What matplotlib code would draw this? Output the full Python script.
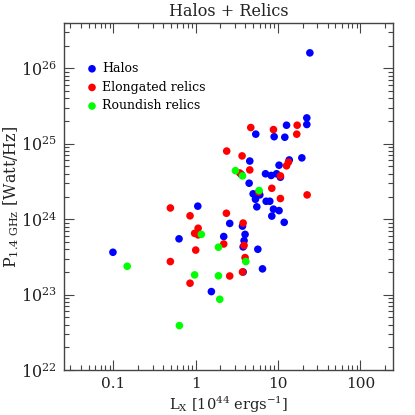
import numpy as np
import matplotlib
matplotlib.use('Agg')
import matplotlib.pyplot as plt
from matplotlib.ticker import LogLocator, NullFormatter, FixedLocator

# Радиогало (синие)
halo_lx = [24.4, 22.4, 22.4, 12.7, 5.37, 8.98, 12.1, 19.5, 13.7, 4.54,
           10.3, 7.05, 8.26, 9.6, 10.7, 4.46, 4.99, 6.01, 5.32, 7.18,
           7.95, 5.53, 8.81, 10.3, 8.41, 11.9, 1.06, 2.59, 3.70, 3.98,
           2.19, 3.87, 3.77, 0.627, 0.0986, 5.69, 6.48, 3.77, 1.55, 3.6]
halo_p = [1.6e26, 2.2e25, 1.8e25, 1.76e25, 1.34e25, 1.24e25, 1.22e25, 6.5e24, 6.1e24, 5.9e24,
          5.2e24, 4.0e24, 3.8e24, 4.0e24, 3.6e24, 3.0e24, 2.17e24, 2.1e24, 1.84e24, 1.73e24,
          1.73e24, 1.46e24, 1.36e24, 1.30e24, 1.1e24, 9.1e23, 1.49e24, 8.8e23, 8.1e23, 6.3e23,
          5.9e23, 5.2e23, 4.3e23, 5.5e23, 3.65e23, 4.0e23, 2.2e23, 2.0e23, 1.1e23, 3.9e24]

# Вытянутые реликты (красные)
elong_lx = [4.67, 8.81, 17.1, 16.9, 2.38, 3.66, 4.54, 13.4, 12.7, 3.43,
            10.7, 8.41, 10.7, 22.6, 5.84, 0.492, 0.853, 2.36, 3.77, 1.07,
            0.97, 1.07, 1.0, 2.19, 3.87, 3.98, 0.492, 2.59, 3.70, 0.853]
elong_p = [1.64e25, 1.54e25, 1.76e25, 1.34e25, 8.0e24, 6.9e24, 4.5e24, 5.7e24, 5.1e24, 4.1e24,
           3.75e24, 2.57e24, 1.88e24, 2.1e24, 2.3e24, 1.41e24, 1.11e24, 1.2e24, 8.9e23, 7.6e23,
           6.5e23, 6.2e23, 3.9e23, 4.7e23, 4.5e23, 3.1e23, 2.75e23, 1.77e23, 2.0e23, 1.42e23]

# Округлые реликты (зелёные)
round_lx = [3.04, 3.70, 5.9, 1.17, 1.89, 4.06, 0.147, 0.97, 1.89, 1.96, 0.633]
round_p = [4.4e24, 3.75e24, 2.4e24, 6.3e23, 4.26e23, 2.75e23, 2.38e23, 1.83e23, 1.78e23, 8.7e22, 3.9e22]

x_ticks = [0.1, 1, 10, 100]
x_ticklabels = ['0.1', '1', '10', '100']
y_ticks = [1e22, 1e23, 1e24, 1e25, 1e26]
y_ticklabels = [r'10$^{22}$', r'10$^{23}$', r'10$^{24}$', r'10$^{25}$', r'10$^{26}$']

plt.rcParams['font.family'] = ['DejaVu Serif']
plt.rcParams['mathtext.fontset'] = 'dejavuserif'

fig = plt.figure(figsize=(4.15, 4.15), dpi=100)
ax = fig.add_axes([0.154, 0.108, 0.793, 0.837])

ms = 30
ax.scatter(halo_lx, halo_p, s=ms, color='#0000ff', edgecolors='none', label='Halos', zorder=3)
ax.scatter(elong_lx, elong_p, s=ms, color='#ff0000', edgecolors='none', label='Elongated relics', zorder=4)
ax.scatter(round_lx, round_p, s=ms, color='#00ff00', edgecolors='none', label='Roundish relics', zorder=5)

ax.set_xscale('log')
ax.set_yscale('log')
ax.set_xlim(0.025, 250)
ax.set_ylim(1e22, 4e26)

ax.xaxis.set_major_locator(FixedLocator(x_ticks))
ax.set_xticklabels(x_ticklabels)
ax.yaxis.set_major_locator(FixedLocator(y_ticks))
ax.set_yticklabels(y_ticklabels)
ax.xaxis.set_minor_locator(LogLocator(base=10, subs=np.arange(2, 10)))
ax.yaxis.set_minor_locator(LogLocator(base=10, subs=np.arange(2, 10)))
ax.xaxis.set_minor_formatter(NullFormatter())
ax.yaxis.set_minor_formatter(NullFormatter())

axcol = '#444444'
for sp in ax.spines.values():
    sp.set_color(axcol)
    sp.set_linewidth(1.0)
ax.tick_params(which='both', direction='in', top=True, right=True, colors=axcol,
               labelcolor='#222222')
ax.tick_params(axis='x', labelsize=11)
ax.tick_params(axis='y', labelsize=11.5)
ax.tick_params(which='major', length=7, width=0.8, pad=5)
ax.tick_params(which='minor', length=3.5, width=0.8)

ax.set_xlabel(r'L$_\mathrm{X}$ [10$^{44}$ ergs$^{-1}$]', fontsize=10.5, color='#222222')
ax.set_ylabel(r'P$_\mathrm{1.4\ GHz}$ [Watt/Hz]', fontsize=11.5, color='#222222')
ax.xaxis.set_label_coords(0.5, -0.072)
ax.yaxis.set_label_coords(-0.13, 0.5)
ax.set_title('Halos + Relics', fontsize=11.5, color='#222222', pad=5)

ax.legend(loc='upper left', bbox_to_anchor=(0.055, 0.905), frameon=False, fontsize=9,
          handlelength=0.6, handletextpad=0.5, labelspacing=0.45, borderpad=0,
          scatterpoints=1)

fig.savefig('out.png', dpi=100)
